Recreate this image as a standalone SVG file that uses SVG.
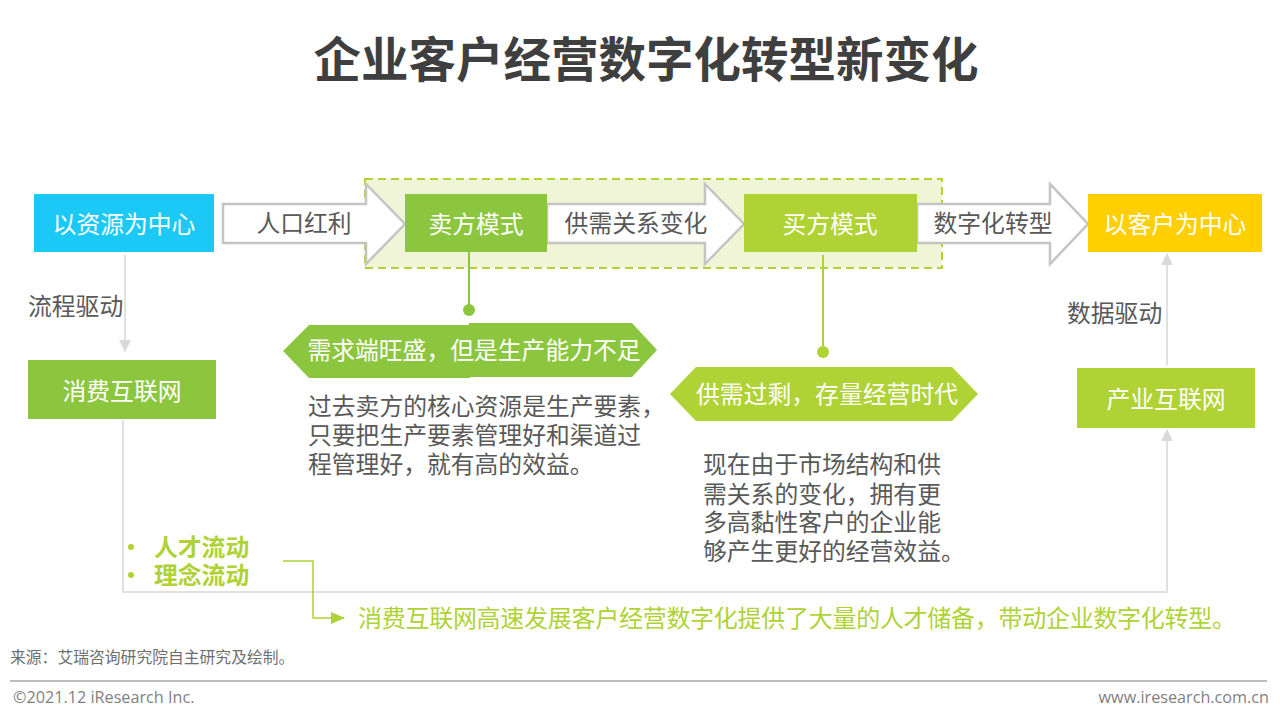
<svg xmlns="http://www.w3.org/2000/svg" width="1280" height="722" viewBox="0 0 1280 722">
<style>
text{font-family:"Noto Sans CJK SC","Liberation Sans",sans-serif}
.w{fill:#fff;font-size:23.8px;text-anchor:middle}
.d{fill:#595959;font-size:23.8px}
.m{text-anchor:middle}
.big{fill:#fff;stroke:#c4c4c4;stroke-width:2.5}
.gl{fill:none;stroke:#e0e0e0;stroke-width:2}
.g{fill:#afd234;font-size:24px}
.gb{fill:#afd234;font-size:23.8px;font-weight:700}
.en{font-family:"Open Sans","Noto Sans",sans-serif;font-size:16.2px;fill:#7f7f7f}
</style>
<defs>
<marker id="ga" markerUnits="userSpaceOnUse" markerWidth="12" markerHeight="12" refX="11" refY="6" orient="auto"><path d="M0 0L12 6L0 12Z" fill="#d9d9d9"/></marker>
<marker id="la" markerUnits="userSpaceOnUse" markerWidth="14" markerHeight="12" refX="13" refY="6" orient="auto"><path d="M0 0L14 6L0 12Z" fill="#afd234"/></marker>
</defs>
<rect width="1280" height="722" fill="#fff"/>
<text id="title" x="646" y="77" font-size="47.5" font-weight="700" fill="#3f3f3f" text-anchor="middle">企业客户经营数字化转型新变化</text>
<rect id="highlight" x="365" y="179" width="577" height="89" fill="#eff5d6" stroke="#afd234" stroke-width="2" stroke-dasharray="8 5"/>
<g id="connectors">
<path class="gl" d="M125 255V351" marker-end="url(#ga)"/>
<path class="gl" d="M1167 365V254" marker-end="url(#ga)"/>
<path class="gl" d="M123 420V592H1167V430" marker-end="url(#ga)"/>
<path d="M469 252V310" fill="none" stroke="#8cc63f" stroke-width="2"/>
<circle cx="469" cy="310" r="6" fill="#8cc63f"/>
<path d="M823 255V352" fill="none" stroke="#afd234" stroke-width="2"/>
<circle cx="823" cy="352" r="6" fill="#afd234"/>
<path d="M283 561H313V618H344" fill="none" stroke="#afd234" stroke-width="1.5" marker-end="url(#la)"/>
</g>
<g id="arrow-renkou"><path class="big" d="M223 204H366V184L405 224L366 264V243H223Z"/><text class="d m" x="304" y="232">人口红利</text></g>
<g id="arrow-gongxu"><path class="big" d="M547 204H705V184L744 224L705 264V243H547Z"/><text class="d m" x="636" y="232">供需关系变化</text></g>
<g id="arrow-shuzi"><path class="big" d="M917 204H1050V184L1088 224L1050 264V243H917Z"/><text class="d m" x="993" y="232">数字化转型</text></g>
<g id="node-ziyuan"><rect x="34" y="194" width="180" height="58" fill="#1cc8f5"/><text class="w" x="124" y="233">以资源为中心</text></g>
<g id="node-maifang"><rect x="405" y="194" width="142" height="58" fill="#8cc63f"/><text class="w" x="476" y="233">卖方模式</text></g>
<g id="node-buyer"><rect x="744" y="194" width="173" height="58" fill="#afd234"/><text class="w" x="830" y="233">买方模式</text></g>
<g id="node-kehu"><rect x="1088" y="194" width="174" height="58" fill="#ffcf00"/><text class="w" x="1175" y="233">以客户为中心</text></g>
<g id="node-xiaofei"><rect x="28" y="360" width="188" height="59" fill="#8cc63f"/><text class="w" x="122" y="400">消费互联网</text></g>
<g id="node-chanye"><rect x="1077" y="368" width="178" height="60" fill="#afd234"/><text class="w" x="1166" y="408">产业互联网</text></g>
<text class="d" x="28" y="315">流程驱动</text>
<text class="d" x="1067" y="322">数据驱动</text>
<g id="hex-xuqiu"><path d="M283 351L309 325H470V378H309Z" fill="#8cc63f"/><path d="M469 323H632L657 350L632 377H469Z" fill="#8cc63f"/><text class="w" x="474" y="359">需求端旺盛，但是生产能力不足</text></g>
<g id="hex-gongxu"><path d="M670 394L696 367H952L978 394L952 421H696Z" fill="#afd234"/><text class="w" x="827" y="403" textLength="262">供需过剩，存量经营时代</text></g>
<g id="text-past">
<text class="d" x="308" y="415">过去卖方的核心资源是生产要素，</text>
<text class="d" x="308" y="444">只要把生产要素管理好和渠道过</text>
<text class="d" x="308" y="473">程管理好，就有高的效益。</text>
</g>
<g id="text-now">
<text class="d" x="703" y="473">现在由于市场结构和供</text>
<text class="d" x="703" y="503">需关系的变化，拥有更</text>
<text class="d" x="703" y="531">多高黏性客户的企业能</text>
<text class="d" x="703" y="560">够产生更好的经营效益。</text>
</g>
<g id="bullets">
<circle cx="131" cy="547" r="3" fill="#afd234"/>
<circle cx="131" cy="575" r="3" fill="#afd234"/>
<text class="gb" x="154" y="556">人才流动</text>
<text class="gb" x="154" y="584">理念流动</text>
</g>
<text class="g" x="358" y="627" textLength="878">消费互联网高速发展客户经营数字化提供了大量的人才储备，带动企业数字化转型。</text>
<text x="10" y="663" font-size="15.8" fill="#6e6e6e">来源：艾瑞咨询研究院自主研究及绘制。</text>
<path d="M10 681H1267" stroke="#a6a6a6" stroke-width="1.5" fill="none"/>
<text class="en" x="13" y="703">©2021.12 iResearch Inc.</text>
<text class="en" x="1269" y="703" text-anchor="end">www.iresearch.com.cn</text>
</svg>
